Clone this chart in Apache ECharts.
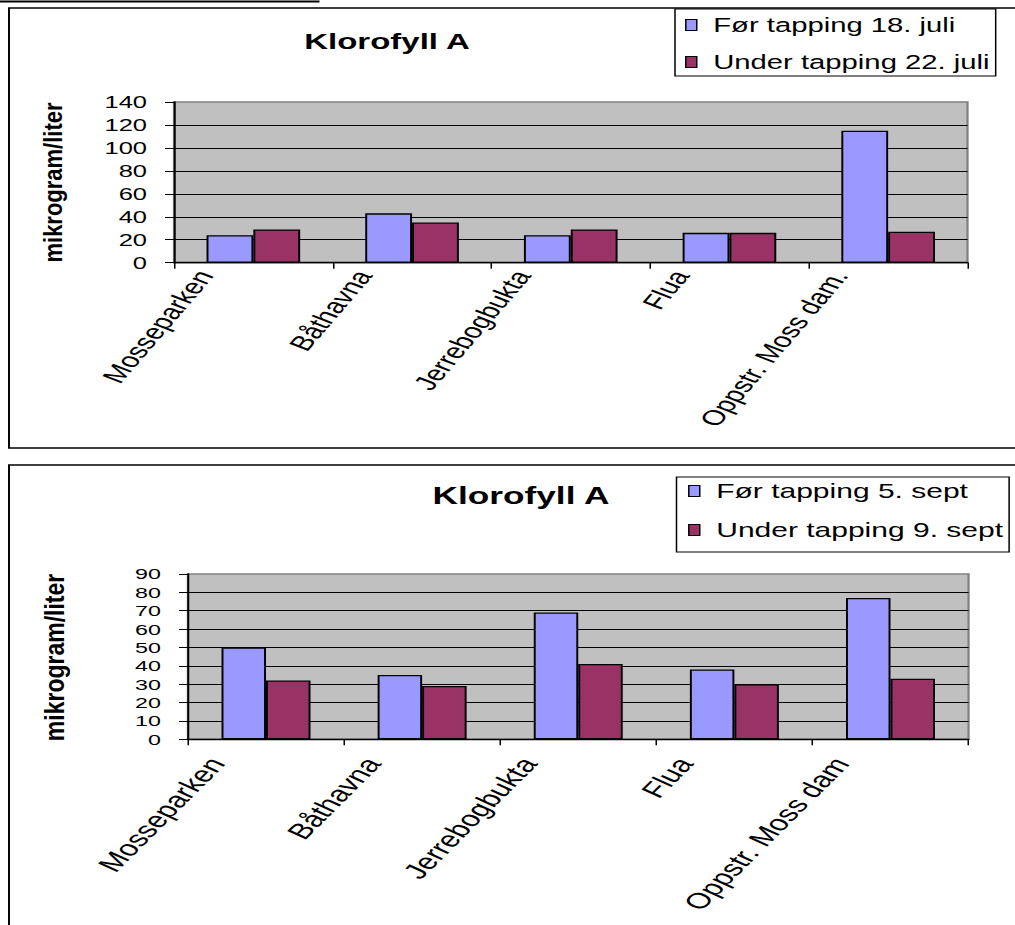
<!DOCTYPE html>
<html><head><meta charset="utf-8">
<script src="https://cdn.jsdelivr.net/npm/echarts@6.0.0/dist/echarts.min.js"></script>
<style>
html,body{margin:0;padding:0;background:#fff;width:1015px;height:925px;overflow:hidden;}
.c{position:absolute;left:0;width:676.667px;transform:scaleX(1.5);transform-origin:0 0;}
#top{top:0;height:455px;}
#bot{top:455px;height:470px;}
</style></head><body>
<div id="top" class="c"></div><div id="bot" class="c"></div>
<script>
// ---- data ----
const categoriesJuly = ['Mosseparken', 'Båthavna', 'Jerrebogbukta', 'Flua', 'Oppstr. Moss dam.'];
const categoriesSept = ['Mosseparken', 'Båthavna', 'Jerrebogbukta', 'Flua', 'Oppstr. Moss dam'];
const seriesNamesJuly = ['Før tapping 18. juli', 'Under tapping 22. juli'];
const seriesNamesSept = ['Før tapping 5. sept', 'Under tapping 9. sept'];
const beforeJuly = [24, 43, 24, 26, 115];
const duringJuly = [29, 35, 29, 26, 27];
const beforeSept = [50, 35, 69, 38, 77];
const duringSept = [32, 29, 41, 30, 33];
const yTicksJuly = { min: 0, max: 140, step: 20 };
const yTicksSept = { min: 0, max: 90, step: 10 };
const chartTitle = 'Klorofyll A';
const yAxisTitle = 'mikrogram/liter';

const FONT = '"Liberation Sans", Arial, sans-serif';
const BLUE = '#9999FF', MAROON = '#993366';

function build(el, cfg) {
  const chart = echarts.init(el, null, { renderer: 'svg' });
  const graphics = [
    { type: 'rect', shape: { x: cfg.frame[0], y: cfg.frame[1], width: cfg.frame[2], height: cfg.frame[3] },
      style: { fill: 'none', stroke: '#000', lineWidth: 1.3 }, silent: true },
    { type: 'text', x: cfg.titlePos[0], y: cfg.titlePos[1],
      style: { text: chartTitle, fontSize: cfg.titleSize, fontWeight: 'bold', fontFamily: FONT,
               fill: '#000', align: 'center', verticalAlign: 'middle' } },
    { type: 'text', x: cfg.yNamePos[0], y: cfg.yNamePos[1], rotation: Math.PI / 2, scaleY: 0.8,
      style: { text: yAxisTitle, fontSize: cfg.yNameSize, fontWeight: 'bold', fontFamily: FONT,
               fill: '#000', align: 'center', verticalAlign: 'middle' } }
  ];
  if (cfg.extraLine) {
    graphics.push({ type: 'line', shape: cfg.extraLine, style: { stroke: '#000', lineWidth: 2 } });
  }
  chart.setOption({
    animation: false,
    backgroundColor: 'transparent',
    graphic: graphics,
    legend: {
      orient: 'vertical', left: cfg.legend.left, top: cfg.legend.top,
      padding: cfg.legend.padding, itemGap: cfg.legend.gap,
      itemWidth: 7.3, itemHeight: 11, icon: 'rect',
      borderColor: '#000', borderWidth: 1, backgroundColor: '#fff',
      itemStyle: { borderColor: '#000', borderWidth: 1 },
      textStyle: { fontSize: cfg.legend.fontSize, fontFamily: FONT, color: '#000',
                   padding: [0, 0, 0, 6], lineHeight: 20 },
      data: cfg.names
    },
    grid: {
      left: cfg.grid.left, right: cfg.grid.right, top: cfg.grid.top, bottom: cfg.grid.bottom,
      containLabel: false, outerBoundsMode: 'none',
      show: true, backgroundColor: '#C0C0C0', borderColor: '#808080', borderWidth: 1.5
    },
    xAxis: {
      type: 'category', data: cfg.categories,
      axisLine: { show: true, lineStyle: { color: '#000', width: 1.3 } },
      axisTick: { show: true, length: 6, lineStyle: { color: '#000', width: 1 } },
      axisLabel: { interval: 0, rotate: cfg.label.rotate, margin: cfg.label.margin,
                   padding: [0, cfg.label.pad, 0, 0],
                   fontSize: cfg.label.fontSize, fontFamily: FONT, color: '#000' }
    },
    yAxis: {
      type: 'value', min: cfg.ticks.min, max: cfg.ticks.max, interval: cfg.ticks.step,
      axisLine: { show: true, lineStyle: { color: '#000', width: 1.3 } },
      axisTick: { show: true, length: 6, lineStyle: { color: '#000', width: 1 } },
      axisLabel: { margin: 18, fontSize: cfg.yLabelSize, fontFamily: FONT, color: '#000' },
      splitLine: { show: true, showMaxLine: false, lineStyle: { color: '#000', width: 1 } }
    },
    series: [
      { name: cfg.names[0], type: 'bar', data: cfg.a, barGap: '0%', barCategoryGap: cfg.catGap,
        itemStyle: { color: BLUE, borderColor: '#000', borderWidth: 1.3 } },
      { name: cfg.names[1], type: 'bar', data: cfg.b, barGap: '0%', barCategoryGap: cfg.catGap,
        itemStyle: { color: MAROON, borderColor: '#000', borderWidth: 1.3 } }
    ]
  });
}

build(document.getElementById('top'), {
  categories: categoriesJuly, names: seriesNamesJuly, a: beforeJuly, b: duringJuly, ticks: yTicksJuly,
  frame: [6, 8, 720, 440], extraLine: { x1: 0, y1: 1.5, x2: 213, y2: 1.5 },
  titlePos: [258, 42], titleSize: 22,
  yNamePos: [35, 182.5], yNameSize: 22, yLabelSize: 17,
  legend: { left: 450, top: 9, padding: [6, 4, 4, 6.7], gap: 17, fontSize: 19.5 },
  grid: { left: 116, right: 32, top: 102, bottom: 192.3 },
  label: { rotate: 60, margin: -46, pad: 64, fontSize: 21 },
  catGap: '41%'
});

build(document.getElementById('bot'), {
  categories: categoriesSept, names: seriesNamesSept, a: beforeSept, b: duringSept, ticks: yTicksSept,
  frame: [6, 10, 720, 500],
  titlePos: [347.3, 41], titleSize: 23.5,
  yNamePos: [36, 202.5], yNameSize: 23, yLabelSize: 15.5,
  legend: { left: 451, top: 22, padding: [4, 4, 12, 7.7], gap: 19, fontSize: 20 },
  grid: { left: 125.3, right: 31.3, top: 119, bottom: 185.7 },
  label: { rotate: 56, margin: -28, pad: 58.5, fontSize: 22 },
  catGap: '43%'
});
</script>
</body></html>
